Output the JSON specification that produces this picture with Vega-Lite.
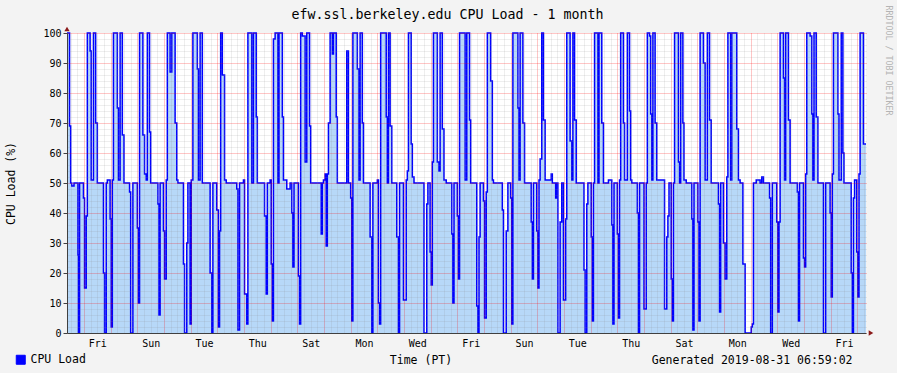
{
"$schema":"https://vega.github.io/schema/vega-lite/v6.json",
"width":799,"height":300,
"autosize":{"type":"none"},
"padding":{"left":67,"top":33,"right":31,"bottom":40},
"background":"#f3f3f3",
"config":{"view":{"fill":"#ffffff","stroke":null},"font":"DejaVu Sans Mono",
 "axis":{"labelFont":"DejaVu Sans Mono","titleFont":"DejaVu Sans Mono","labelColor":"#000000","titleColor":"#000000","titleFontWeight":"normal"}},
"title":{"text":"efw.ssl.berkeley.edu CPU Load - 1 month","font":"DejaVu Sans Mono","fontSize":13.3,"fontWeight":"normal","color":"#000000","anchor":"middle","frame":"group","dx":-19,"offset":0,"dy":16},
"datasets":{"cpu":[
{"t":"2019-08-01T08:42Z","v":100},{"t":"2019-08-01T11:00Z","v":69},{"t":"2019-08-01T12:00Z","v":50},{"t":"2019-08-01T13:00Z","v":49},{"t":"2019-08-01T15:00Z","v":50},{"t":"2019-08-01T18:30Z","v":26},{"t":"2019-08-01T19:00Z","v":0},{"t":"2019-08-01T20:00Z","v":50},{"t":"2019-08-01T23:30Z","v":45},
{"t":"2019-08-02T00:30Z","v":15},{"t":"2019-08-02T02:00Z","v":39},{"t":"2019-08-02T03:00Z","v":100},{"t":"2019-08-02T05:30Z","v":94},{"t":"2019-08-02T06:30Z","v":51},{"t":"2019-08-02T08:30Z","v":100},{"t":"2019-08-02T10:30Z","v":70},{"t":"2019-08-02T12:00Z","v":50},{"t":"2019-08-02T17:30Z","v":20},{"t":"2019-08-02T18:30Z","v":0},{"t":"2019-08-02T20:00Z","v":50},{"t":"2019-08-02T21:00Z","v":51},{"t":"2019-08-02T23:30Z","v":38},
{"t":"2019-08-03T00:30Z","v":2},{"t":"2019-08-03T01:30Z","v":51},{"t":"2019-08-03T02:30Z","v":100},{"t":"2019-08-03T06:00Z","v":75},{"t":"2019-08-03T07:00Z","v":51},{"t":"2019-08-03T08:30Z","v":100},{"t":"2019-08-03T10:30Z","v":66},{"t":"2019-08-03T12:00Z","v":50},{"t":"2019-08-03T17:00Z","v":47},{"t":"2019-08-03T18:00Z","v":0},{"t":"2019-08-03T20:00Z","v":50},
{"t":"2019-08-04T00:00Z","v":35},{"t":"2019-08-04T01:00Z","v":10},{"t":"2019-08-04T02:00Z","v":100},{"t":"2019-08-04T05:00Z","v":66},{"t":"2019-08-04T06:30Z","v":53},{"t":"2019-08-04T08:00Z","v":51},{"t":"2019-08-04T09:00Z","v":100},{"t":"2019-08-04T11:00Z","v":67},{"t":"2019-08-04T12:00Z","v":50},{"t":"2019-08-04T18:30Z","v":43},{"t":"2019-08-04T19:30Z","v":6},{"t":"2019-08-04T20:30Z","v":50},{"t":"2019-08-04T23:30Z","v":34},
{"t":"2019-08-05T00:30Z","v":18},{"t":"2019-08-05T02:00Z","v":51},{"t":"2019-08-05T03:00Z","v":100},{"t":"2019-08-05T05:30Z","v":87},{"t":"2019-08-05T07:00Z","v":100},{"t":"2019-08-05T10:00Z","v":70},{"t":"2019-08-05T11:30Z","v":51},{"t":"2019-08-05T12:30Z","v":50},{"t":"2019-08-05T17:30Z","v":23},{"t":"2019-08-05T18:30Z","v":0},{"t":"2019-08-05T20:30Z","v":30},{"t":"2019-08-05T21:30Z","v":50},{"t":"2019-08-05T23:30Z","v":3},
{"t":"2019-08-06T00:30Z","v":51},{"t":"2019-08-06T02:00Z","v":100},{"t":"2019-08-06T06:00Z","v":88},{"t":"2019-08-06T07:00Z","v":51},{"t":"2019-08-06T08:30Z","v":100},{"t":"2019-08-06T10:30Z","v":50},{"t":"2019-08-06T17:30Z","v":20},{"t":"2019-08-06T19:00Z","v":0},{"t":"2019-08-06T20:00Z","v":50},{"t":"2019-08-06T23:30Z","v":41},
{"t":"2019-08-07T01:00Z","v":2},{"t":"2019-08-07T02:00Z","v":34},{"t":"2019-08-07T03:00Z","v":100},{"t":"2019-08-07T04:30Z","v":86},{"t":"2019-08-07T06:30Z","v":51},{"t":"2019-08-07T08:00Z","v":50},{"t":"2019-08-07T17:30Z","v":48},{"t":"2019-08-07T18:30Z","v":1},{"t":"2019-08-07T20:00Z","v":50},{"t":"2019-08-07T23:30Z","v":51},
{"t":"2019-08-08T00:30Z","v":13},{"t":"2019-08-08T02:30Z","v":3},{"t":"2019-08-08T03:30Z","v":100},{"t":"2019-08-08T07:00Z","v":50},{"t":"2019-08-08T08:30Z","v":100},{"t":"2019-08-08T11:00Z","v":72},{"t":"2019-08-08T12:00Z","v":50},{"t":"2019-08-08T18:30Z","v":39},{"t":"2019-08-08T20:00Z","v":13},{"t":"2019-08-08T21:00Z","v":50},{"t":"2019-08-08T23:30Z","v":51},
{"t":"2019-08-09T00:30Z","v":23},{"t":"2019-08-09T01:30Z","v":4},{"t":"2019-08-09T02:30Z","v":98},{"t":"2019-08-09T04:00Z","v":100},{"t":"2019-08-09T06:30Z","v":50},{"t":"2019-08-09T07:30Z","v":100},{"t":"2019-08-09T10:30Z","v":72},{"t":"2019-08-09T11:30Z","v":51},{"t":"2019-08-09T14:30Z","v":48},{"t":"2019-08-09T17:30Z","v":50},{"t":"2019-08-09T19:00Z","v":40},{"t":"2019-08-09T20:00Z","v":22},{"t":"2019-08-09T21:00Z","v":50},
{"t":"2019-08-10T01:00Z","v":19},{"t":"2019-08-10T02:00Z","v":3},{"t":"2019-08-10T03:00Z","v":100},{"t":"2019-08-10T04:30Z","v":99},{"t":"2019-08-10T07:00Z","v":57},{"t":"2019-08-10T08:30Z","v":100},{"t":"2019-08-10T11:00Z","v":69},{"t":"2019-08-10T12:00Z","v":50},{"t":"2019-08-10T21:30Z","v":33},{"t":"2019-08-10T22:30Z","v":50},{"t":"2019-08-10T23:30Z","v":51},
{"t":"2019-08-11T01:00Z","v":53},{"t":"2019-08-11T02:00Z","v":29},{"t":"2019-08-11T03:00Z","v":53},{"t":"2019-08-11T04:00Z","v":70},{"t":"2019-08-11T05:30Z","v":100},{"t":"2019-08-11T07:30Z","v":93},{"t":"2019-08-11T08:30Z","v":100},{"t":"2019-08-11T11:00Z","v":72},{"t":"2019-08-11T12:00Z","v":50},{"t":"2019-08-11T20:30Z","v":94},{"t":"2019-08-11T22:00Z","v":50},
{"t":"2019-08-12T00:00Z","v":45},{"t":"2019-08-12T01:00Z","v":4},{"t":"2019-08-12T02:00Z","v":100},{"t":"2019-08-12T06:00Z","v":88},{"t":"2019-08-12T07:30Z","v":51},{"t":"2019-08-12T08:30Z","v":100},{"t":"2019-08-12T10:30Z","v":70},{"t":"2019-08-12T11:30Z","v":50},{"t":"2019-08-12T17:30Z","v":32},{"t":"2019-08-12T19:00Z","v":0},{"t":"2019-08-12T20:00Z","v":50},
{"t":"2019-08-13T00:00Z","v":51},{"t":"2019-08-13T01:00Z","v":10},{"t":"2019-08-13T02:00Z","v":3},{"t":"2019-08-13T03:00Z","v":100},{"t":"2019-08-13T08:00Z","v":72},{"t":"2019-08-13T09:00Z","v":50},{"t":"2019-08-13T10:00Z","v":100},{"t":"2019-08-13T11:30Z","v":69},{"t":"2019-08-13T13:00Z","v":50},{"t":"2019-08-13T17:30Z","v":32},{"t":"2019-08-13T19:00Z","v":0},{"t":"2019-08-13T20:00Z","v":50},{"t":"2019-08-13T23:30Z","v":11},
{"t":"2019-08-14T02:00Z","v":51},{"t":"2019-08-14T03:00Z","v":54},{"t":"2019-08-14T04:00Z","v":100},{"t":"2019-08-14T06:30Z","v":63},{"t":"2019-08-14T07:30Z","v":52},{"t":"2019-08-14T09:00Z","v":50},{"t":"2019-08-14T18:00Z","v":0},{"t":"2019-08-14T20:30Z","v":43},{"t":"2019-08-14T21:30Z","v":50},{"t":"2019-08-14T23:30Z","v":27},
{"t":"2019-08-15T00:30Z","v":16},{"t":"2019-08-15T01:30Z","v":57},{"t":"2019-08-15T02:30Z","v":100},{"t":"2019-08-15T06:00Z","v":57},{"t":"2019-08-15T07:30Z","v":54},{"t":"2019-08-15T08:30Z","v":100},{"t":"2019-08-15T10:30Z","v":68},{"t":"2019-08-15T12:00Z","v":51},{"t":"2019-08-15T14:00Z","v":50},{"t":"2019-08-15T19:00Z","v":33},{"t":"2019-08-15T20:00Z","v":10},{"t":"2019-08-15T21:00Z","v":50},
{"t":"2019-08-16T00:00Z","v":39},{"t":"2019-08-16T01:00Z","v":18},{"t":"2019-08-16T02:00Z","v":100},{"t":"2019-08-16T07:00Z","v":51},{"t":"2019-08-16T08:30Z","v":100},{"t":"2019-08-16T11:00Z","v":71},{"t":"2019-08-16T12:00Z","v":50},{"t":"2019-08-16T17:30Z","v":9},{"t":"2019-08-16T18:30Z","v":0},{"t":"2019-08-16T19:30Z","v":32},{"t":"2019-08-16T20:30Z","v":50},{"t":"2019-08-16T23:30Z","v":44},
{"t":"2019-08-17T00:30Z","v":5},{"t":"2019-08-17T02:00Z","v":47},{"t":"2019-08-17T03:00Z","v":100},{"t":"2019-08-17T06:00Z","v":84},{"t":"2019-08-17T07:30Z","v":51},{"t":"2019-08-17T08:30Z","v":50},{"t":"2019-08-17T16:30Z","v":41},{"t":"2019-08-17T17:30Z","v":0},{"t":"2019-08-17T20:00Z","v":34},{"t":"2019-08-17T21:30Z","v":50},
{"t":"2019-08-18T00:00Z","v":45},{"t":"2019-08-18T01:00Z","v":3},{"t":"2019-08-18T02:00Z","v":100},{"t":"2019-08-18T06:30Z","v":75},{"t":"2019-08-18T07:30Z","v":51},{"t":"2019-08-18T08:30Z","v":100},{"t":"2019-08-18T11:00Z","v":70},{"t":"2019-08-18T12:30Z","v":50},{"t":"2019-08-18T18:30Z","v":37},{"t":"2019-08-18T19:30Z","v":18},{"t":"2019-08-18T20:30Z","v":50},{"t":"2019-08-18T23:30Z","v":34},
{"t":"2019-08-19T00:30Z","v":15},{"t":"2019-08-19T01:30Z","v":51},{"t":"2019-08-19T02:30Z","v":58},{"t":"2019-08-19T04:00Z","v":100},{"t":"2019-08-19T05:30Z","v":71},{"t":"2019-08-19T07:00Z","v":51},{"t":"2019-08-19T12:30Z","v":53},{"t":"2019-08-19T13:30Z","v":50},{"t":"2019-08-19T16:30Z","v":45},{"t":"2019-08-19T17:30Z","v":50},{"t":"2019-08-19T18:30Z","v":0},{"t":"2019-08-19T20:30Z","v":37},{"t":"2019-08-19T22:00Z","v":50},{"t":"2019-08-19T23:30Z","v":11},
{"t":"2019-08-20T01:30Z","v":38},{"t":"2019-08-20T02:30Z","v":100},{"t":"2019-08-20T05:30Z","v":64},{"t":"2019-08-20T07:00Z","v":51},{"t":"2019-08-20T08:00Z","v":100},{"t":"2019-08-20T09:30Z","v":71},{"t":"2019-08-20T11:00Z","v":50},{"t":"2019-08-20T18:00Z","v":21},{"t":"2019-08-20T19:00Z","v":0},{"t":"2019-08-20T20:30Z","v":43},{"t":"2019-08-20T21:30Z","v":50},
{"t":"2019-08-21T00:30Z","v":32},{"t":"2019-08-21T01:30Z","v":4},{"t":"2019-08-21T02:30Z","v":50},{"t":"2019-08-21T03:30Z","v":100},{"t":"2019-08-21T06:30Z","v":50},{"t":"2019-08-21T07:30Z","v":100},{"t":"2019-08-21T10:00Z","v":70},{"t":"2019-08-21T11:30Z","v":50},{"t":"2019-08-21T16:00Z","v":51},{"t":"2019-08-21T19:00Z","v":36},{"t":"2019-08-21T20:00Z","v":3},{"t":"2019-08-21T21:00Z","v":50},
{"t":"2019-08-22T00:00Z","v":33},{"t":"2019-08-22T01:00Z","v":5},{"t":"2019-08-22T02:00Z","v":51},{"t":"2019-08-22T03:00Z","v":100},{"t":"2019-08-22T05:30Z","v":70},{"t":"2019-08-22T06:30Z","v":51},{"t":"2019-08-22T09:00Z","v":100},{"t":"2019-08-22T11:00Z","v":74},{"t":"2019-08-22T12:00Z","v":51},{"t":"2019-08-22T13:00Z","v":50},{"t":"2019-08-22T18:00Z","v":40},{"t":"2019-08-22T19:00Z","v":0},{"t":"2019-08-22T20:00Z","v":50},
{"t":"2019-08-23T00:00Z","v":8},{"t":"2019-08-23T02:00Z","v":50},{"t":"2019-08-23T03:00Z","v":100},{"t":"2019-08-23T05:00Z","v":99},{"t":"2019-08-23T06:00Z","v":73},{"t":"2019-08-23T07:00Z","v":51},{"t":"2019-08-23T08:00Z","v":100},{"t":"2019-08-23T10:00Z","v":70},{"t":"2019-08-23T11:30Z","v":51},{"t":"2019-08-23T18:30Z","v":8},{"t":"2019-08-23T20:30Z","v":32},{"t":"2019-08-23T21:30Z","v":39},{"t":"2019-08-23T22:30Z","v":50},
{"t":"2019-08-24T00:30Z","v":18},{"t":"2019-08-24T01:30Z","v":4},{"t":"2019-08-24T02:30Z","v":50},{"t":"2019-08-24T03:30Z","v":100},{"t":"2019-08-24T07:00Z","v":57},{"t":"2019-08-24T08:00Z","v":50},{"t":"2019-08-24T09:00Z","v":100},{"t":"2019-08-24T11:00Z","v":70},{"t":"2019-08-24T12:00Z","v":51},{"t":"2019-08-24T14:00Z","v":50},{"t":"2019-08-24T19:00Z","v":38},{"t":"2019-08-24T20:00Z","v":1},{"t":"2019-08-24T21:00Z","v":50},
{"t":"2019-08-25T00:30Z","v":37},{"t":"2019-08-25T01:30Z","v":4},{"t":"2019-08-25T02:30Z","v":100},{"t":"2019-08-25T05:30Z","v":90},{"t":"2019-08-25T07:00Z","v":51},{"t":"2019-08-25T09:00Z","v":100},{"t":"2019-08-25T11:00Z","v":71},{"t":"2019-08-25T12:30Z","v":50},{"t":"2019-08-25T19:00Z","v":43},{"t":"2019-08-25T20:00Z","v":7},{"t":"2019-08-25T21:00Z","v":50},{"t":"2019-08-25T23:30Z","v":30},
{"t":"2019-08-26T01:00Z","v":18},{"t":"2019-08-26T02:30Z","v":52},{"t":"2019-08-26T03:30Z","v":100},{"t":"2019-08-26T06:00Z","v":51},{"t":"2019-08-26T07:00Z","v":100},{"t":"2019-08-26T11:30Z","v":68},{"t":"2019-08-26T13:00Z","v":51},{"t":"2019-08-26T14:30Z","v":50},{"t":"2019-08-26T17:00Z","v":23},{"t":"2019-08-26T19:00Z","v":0},
{"t":"2019-08-27T00:30Z","v":2},{"t":"2019-08-27T01:30Z","v":3},{"t":"2019-08-27T02:30Z","v":50},{"t":"2019-08-27T05:00Z","v":51},{"t":"2019-08-27T08:30Z","v":50},{"t":"2019-08-27T10:00Z","v":52},{"t":"2019-08-27T11:30Z","v":50},{"t":"2019-08-27T17:00Z","v":45},{"t":"2019-08-27T18:00Z","v":0},{"t":"2019-08-27T19:30Z","v":50},{"t":"2019-08-27T23:30Z","v":37},
{"t":"2019-08-28T00:30Z","v":7},{"t":"2019-08-28T01:30Z","v":37},{"t":"2019-08-28T02:30Z","v":100},{"t":"2019-08-28T05:30Z","v":85},{"t":"2019-08-28T06:30Z","v":51},{"t":"2019-08-28T07:30Z","v":100},{"t":"2019-08-28T10:00Z","v":71},{"t":"2019-08-28T11:30Z","v":50},{"t":"2019-08-28T18:00Z","v":47},{"t":"2019-08-28T19:00Z","v":4},{"t":"2019-08-28T20:00Z","v":50},{"t":"2019-08-28T23:30Z","v":25},
{"t":"2019-08-29T00:30Z","v":22},{"t":"2019-08-29T01:30Z","v":53},{"t":"2019-08-29T02:30Z","v":100},{"t":"2019-08-29T05:30Z","v":99},{"t":"2019-08-29T07:00Z","v":73},{"t":"2019-08-29T08:00Z","v":51},{"t":"2019-08-29T09:00Z","v":100},{"t":"2019-08-29T11:00Z","v":72},{"t":"2019-08-29T12:30Z","v":50},{"t":"2019-08-29T17:30Z","v":0},{"t":"2019-08-29T19:30Z","v":50},{"t":"2019-08-29T23:30Z","v":40},
{"t":"2019-08-30T00:30Z","v":12},{"t":"2019-08-30T01:30Z","v":53},{"t":"2019-08-30T02:30Z","v":100},{"t":"2019-08-30T06:30Z","v":73},{"t":"2019-08-30T07:30Z","v":51},{"t":"2019-08-30T09:30Z","v":100},{"t":"2019-08-30T11:00Z","v":60},{"t":"2019-08-30T12:00Z","v":50},{"t":"2019-08-30T18:30Z","v":20},{"t":"2019-08-30T19:30Z","v":0},{"t":"2019-08-30T20:30Z","v":45},{"t":"2019-08-30T21:30Z","v":51},{"t":"2019-08-30T23:30Z","v":27},
{"t":"2019-08-31T00:30Z","v":12},{"t":"2019-08-31T01:30Z","v":53},{"t":"2019-08-31T02:30Z","v":100},{"t":"2019-08-31T05:30Z","v":63},{"t":"2019-08-31T07:48Z","v":63}
]},
"layer":[
{"data":{"name":"cpu"},
 "mark":{"type":"area","interpolate":"step-after","color":"#b7d8f8","opacity":1},
 "encoding":{
  "x":{"field":"t","type":"temporal",
   "scale":{"type":"utc","domain":[1564648920000,1567237680000]},
   "axis":{"orient":"bottom",
    "values":[1564660800000,1564682400000,1564704000000,1564725600000,1564747200000,1564768800000,1564790400000,1564812000000,1564833600000,1564855200000,1564876800000,1564898400000,1564920000000,1564941600000,1564963200000,1564984800000,1565006400000,1565028000000,1565049600000,1565071200000,1565092800000,1565114400000,1565136000000,1565157600000,1565179200000,1565200800000,1565222400000,1565244000000,1565265600000,1565287200000,1565308800000,1565330400000,1565352000000,1565373600000,1565395200000,1565416800000,1565438400000,1565460000000,1565481600000,1565503200000,1565524800000,1565546400000,1565568000000,1565589600000,1565611200000,1565632800000,1565654400000,1565676000000,1565697600000,1565719200000,1565740800000,1565762400000,1565784000000,1565805600000,1565827200000,1565848800000,1565870400000,1565892000000,1565913600000,1565935200000,1565956800000,1565978400000,1566000000000,1566021600000,1566043200000,1566064800000,1566086400000,1566108000000,1566129600000,1566151200000,1566172800000,1566194400000,1566216000000,1566237600000,1566259200000,1566280800000,1566302400000,1566324000000,1566345600000,1566367200000,1566388800000,1566410400000,1566432000000,1566453600000,1566475200000,1566496800000,1566518400000,1566540000000,1566561600000,1566583200000,1566604800000,1566626400000,1566648000000,1566669600000,1566691200000,1566712800000,1566734400000,1566756000000,1566777600000,1566799200000,1566820800000,1566842400000,1566864000000,1566885600000,1566907200000,1566928800000,1566950400000,1566972000000,1566993600000,1567015200000,1567036800000,1567058400000,1567080000000,1567101600000,1567123200000,1567144800000,1567166400000,1567188000000,1567209600000,1567231200000],
    "grid":true,"gridDash":[1,1],"gridWidth":1,
    "gridOpacity":{"condition":{"test":"utchours(datum.value) === 0","value":0.45},"value":0.3},
    "gridColor":{"condition":{"test":"utchours(datum.value) === 0","value":"#ff0000"},"value":"#8c8c8c"},
    "zindex":1,"ticks":false,
    "labelExpr":"utchours(datum.value) === 12 && utcdate(datum.value) % 2 === 0 ? utcFormat(datum.value, '%a') : ''",
    "labelOverlap":false,"labelFlush":false,"labelFontSize":10,"labelPadding":13,"labelBaseline":"alphabetic","labelAlign":"center",
    "domainColor":"#404040","domainWidth":1,
    "title":"Time (PT)","titleFontSize":11.5,"titleX":353.5,"titleY":30,"titleAlign":"center","titleBaseline":"alphabetic"}},
  "y":{"field":"v","type":"quantitative",
   "scale":{"domain":[0,100],"nice":false},
   "axis":{"orient":"left","values":[0,2,4,6,8,10,12,14,16,18,20,22,24,26,28,30,32,34,36,38,40,42,44,46,48,50,52,54,56,58,60,62,64,66,68,70,72,74,76,78,80,82,84,86,88,90,92,94,96,98,100],
    "grid":true,"gridDash":[1,1],"gridWidth":1,
    "gridOpacity":{"condition":{"test":"datum.value % 10 === 0","value":0.45},"value":0.3},
    "gridColor":{"condition":{"test":"datum.value % 10 === 0","value":"#ff0000"},"value":"#8c8c8c"},
    "zindex":1,"ticks":true,"tickSize":4,"tickColor":"#404040",
    "tickOpacity":{"condition":{"test":"datum.value % 10 === 0","value":1},"value":0},
    "labelExpr":"datum.value % 10 === 0 ? datum.label : ''",
    "labelOverlap":false,"labelFontSize":10,"labelPadding":2,
    "domainColor":"#404040","domainWidth":1,
    "title":"CPU Load (%)","titleFontSize":11.5,"titleX":-56,"titleY":150,"titleAlign":"center","titleBaseline":"middle","titleAngle":270}}
 }},
{"data":{"name":"cpu"},
 "mark":{"type":"line","interpolate":"step-after","strokeWidth":1.5},
 "encoding":{
  "x":{"field":"t","type":"temporal",
   "axis":{"orient":"bottom","grid":false,"ticks":false,"labels":false,"domain":false,
    "title":"Generated 2019-08-31 06:59:02","titleFontSize":11.5,"titleX":785,"titleY":30,"titleAlign":"right","titleBaseline":"alphabetic"}},
  "y":{"field":"v","type":"quantitative",
   "axis":{"orient":"right","grid":false,"ticks":false,"labels":false,"domain":false,
    "title":"RRDTOOL / TOBI OETIKER","titleFontSize":8.3,"titleColor":"#b4b4b4","titleAngle":90,"titleX":21.5,"titleY":-28,"titleAlign":"left","titleBaseline":"middle"}},
  "color":{"datum":"CPU Load","scale":{"range":["#0000ff"]},
   "legend":{"orient":"none","legendX":-52,"legendY":321,"title":null,"symbolType":"square","symbolSize":81,"labelOffset":4,"padding":0,
    "labelFont":"DejaVu Sans Mono","labelFontSize":11.5,"labelColor":"#000000",
    "encode":{"symbols":{"update":{"fill":{"value":"#0000ff"},"stroke":{"value":"#000000"},"strokeWidth":{"value":1},"opacity":{"value":1}}}}}}
 }},
{"data":{"values":[{}]},
 "mark":{"type":"point","shape":"triangle-up","filled":true,"color":"#8b1a1a","opacity":1,"size":28,"yOffset":-4},
 "encoding":{"x":{"datum":1564648920000,"type":"temporal","axis":null},"y":{"datum":100,"type":"quantitative","axis":null}}},
{"data":{"values":[{}]},
 "mark":{"type":"point","shape":"triangle-right","filled":true,"color":"#8b1a1a","opacity":1,"size":28,"xOffset":5},
 "encoding":{"x":{"datum":1567237680000,"type":"temporal","axis":null},"y":{"datum":0,"type":"quantitative","axis":null}}}
],
"resolve":{"axis":{"x":"independent","y":"independent"}}
}
